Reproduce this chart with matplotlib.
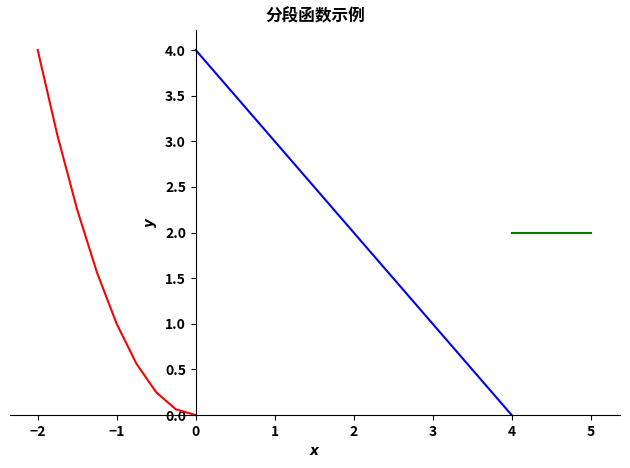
import matplotlib
matplotlib.use("Agg")
import matplotlib.pyplot as plt

plt.rcParams['font.family'] = ['Noto Sans CJK SC', 'DejaVu Sans']
plt.rcParams['font.weight'] = 'bold'

x1 = [-2.0, -1.75, -1.5, -1.25, -1.0, -0.75, -0.5, -0.25, 0.0]
y1 = [4.0, 3.0625, 2.25, 1.5625, 1.0, 0.5625, 0.25, 0.0625, 0.0]
x2 = [0.0, 4.0]
y2 = [4.0, 0.0]
x3 = [4.0, 5.0]
y3 = [2.0, 2.0]

fig = plt.figure(figsize=(6.3, 4.68), dpi=100)
ax = fig.add_axes([0.016, 0.113, 0.968, 0.823])
ax.plot(x1, y1, color='red', lw=1.5)
ax.plot(x2, y2, color='blue', lw=1.5)
ax.plot(x3, y3, color='green', lw=1.5)
ax.set_xlim(-2.35, 5.37)
ax.set_ylim(0, 4.22)
ax.spines['left'].set_position(('data', 0))
ax.spines['bottom'].set_position(('data', 0))
ax.spines['right'].set_visible(False)
ax.spines['top'].set_visible(False)
ax.set_xticks([-2, -1, 0, 1, 2, 3, 4, 5])
ax.set_yticks([0, 0.5, 1, 1.5, 2, 2.5, 3, 3.5, 4])
ax.set_xlabel('$x$')
ax.set_ylabel('$y$')
ax.set_title('分段函数示例', fontweight='bold')
fig.savefig('out.png', dpi=100)
